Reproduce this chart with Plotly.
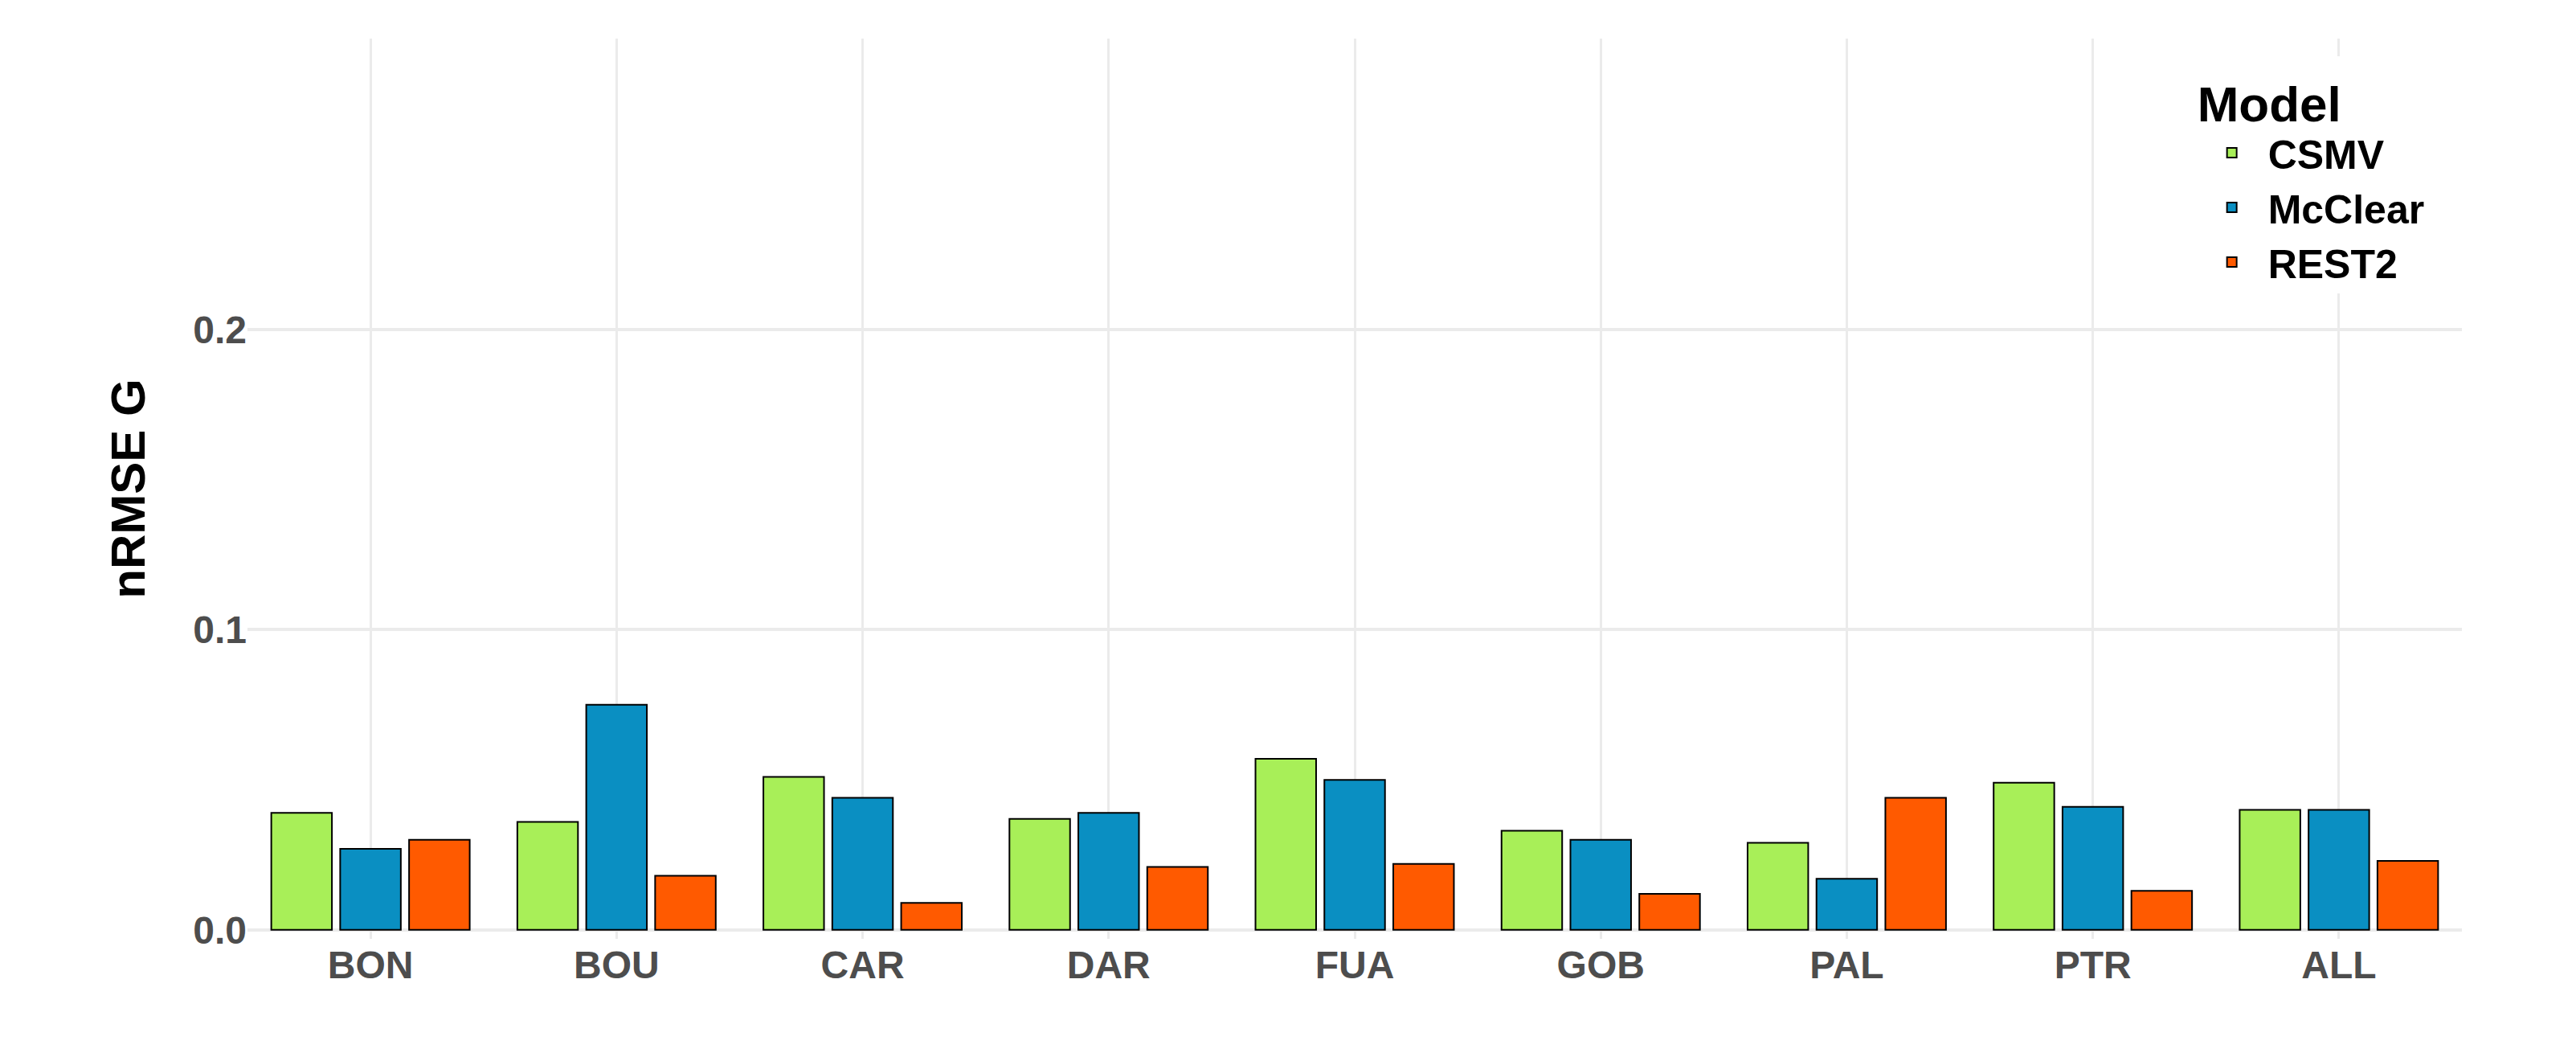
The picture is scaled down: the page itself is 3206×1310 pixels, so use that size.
import plotly.graph_objects as go

stations = ["BON", "BOU", "CAR", "DAR", "FUA", "GOB", "PAL", "PTR", "ALL"]
csmv = [0.039, 0.036, 0.051, 0.037, 0.057, 0.033, 0.029, 0.049, 0.040]
mcclear = [0.027, 0.075, 0.044, 0.039, 0.050, 0.030, 0.017, 0.041, 0.040]
rest2 = [0.030, 0.018, 0.009, 0.021, 0.022, 0.012, 0.044, 0.013, 0.023]
series = [("CSMV", csmv, "#a8ef58"), ("McClear", mcclear, "#0a8fc2"), ("REST2", rest2, "#ff5a00")]

fig = go.Figure()
for name, vals, col in series:
    fig.add_trace(go.Bar(x=stations, y=vals, name=name, marker=dict(color=col, line=dict(color="black", width=2))))

fig.update_layout(
    width=3206, height=1310, plot_bgcolor="white", paper_bgcolor="white",
    margin=dict(l=300, r=150, t=40, b=150),
    barmode="group", bargap=0.16, bargroupgap=0.12,
    font=dict(family="Liberation Sans, Arial", size=48, color="#4d4d4d"),
    legend=dict(title=dict(text="<b>Model</b>", font=dict(size=62, color="black")),
                font=dict(size=50, color="black", weight="bold"),
                x=0.985, xanchor="right", y=0.98, yanchor="top",
                bgcolor="white", itemwidth=80, tracegroupgap=20),
)
fig.update_xaxes(showgrid=True, gridcolor="#ebebeb", gridwidth=3, tickfont=dict(size=48, weight="bold", color="#4d4d4d"), ticks="")
fig.update_yaxes(range=[-0.003, 0.297], tickvals=[0, 0.1, 0.2], ticktext=["0.0", "0.1", "0.2"],
                 showgrid=True, gridcolor="#ebebeb", gridwidth=4, zeroline=False,
                 tickfont=dict(size=48, weight="bold", color="#4d4d4d"),
                 title=dict(text="<b>nRMSE G</b>", font=dict(size=60, color="black"), standoff=40))
fig.write_html("out.html")
